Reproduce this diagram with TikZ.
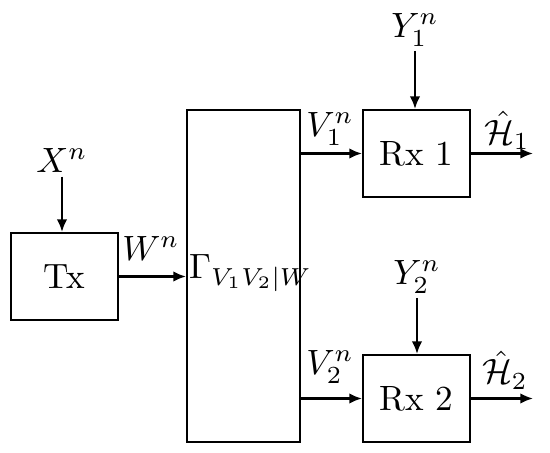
\documentclass[tikz,border=0pt]{standalone}
\usepackage{amsmath}
\usetikzlibrary{arrows.meta}
\begin{document}
\begin{tikzpicture}[
    block/.style={draw,line width=0.6pt,minimum width=1.07cm,minimum height=0.87cm,inner sep=0pt},
    lbl/.style={inner sep=1pt},
    every path/.style={line width=0.6pt},
    >={Latex[length=3.6pt,width=3pt]}
]
\useasboundingbox (0,0) rectangle (5.5,4.53);
\node[block] (Tx)  at (0.645,1.765) {Tx};
\node[block,minimum width=1.13cm,minimum height=3.32cm] (Gam) at (2.435,1.77) {};
\node[block] (Rx1) at (4.165,2.995) {Rx 1};
\node[block] (Rx2) at (4.165,0.545) {Rx 2};

\node[lbl] (Xn) at (0.62,2.93) {$X^n$};
\node[lbl] (Wn) at (1.51,2.05) {$W^n$};
\node[lbl,anchor=west,inner sep=0pt] (G) at (1.88,1.80) {$\Gamma_{V_1V_2|W}$};
\node[lbl] (Y1) at (4.15,4.23) {$Y_1^n$};
\node[lbl] (Y2) at (4.17,1.76) {$Y_2^n$};
\node[lbl] (V1) at (3.30,3.24) {$V_1^n$};
\node[lbl] (V2) at (3.30,0.86) {$V_2^n$};
\node[lbl] (H1) at (5.07,3.23) {$\hat{\mathcal{H}}_1$};
\node[lbl] (H2) at (5.05,0.83) {$\hat{\mathcal{H}}_2$};
\coordinate (H1end) at (5.33,2.995);
\coordinate (H2end) at (5.33,0.545);

\draw[->] (Xn) -- (Xn |- Tx.north);
\draw[->] (Tx) -- (Gam.west |- Tx);
\draw[->] (Gam.east |- Rx1) -- (Rx1);
\draw[->] (Gam.east |- Rx2) -- (Rx2);
\draw[->] (Y1) -- (Y1 |- Rx1.north);
\draw[->] (Y2) -- (Y2 |- Rx2.north);
\draw[->] (Rx1) -- (H1end);
\draw[->] (Rx2) -- (H2end);
\end{tikzpicture}
\end{document}
